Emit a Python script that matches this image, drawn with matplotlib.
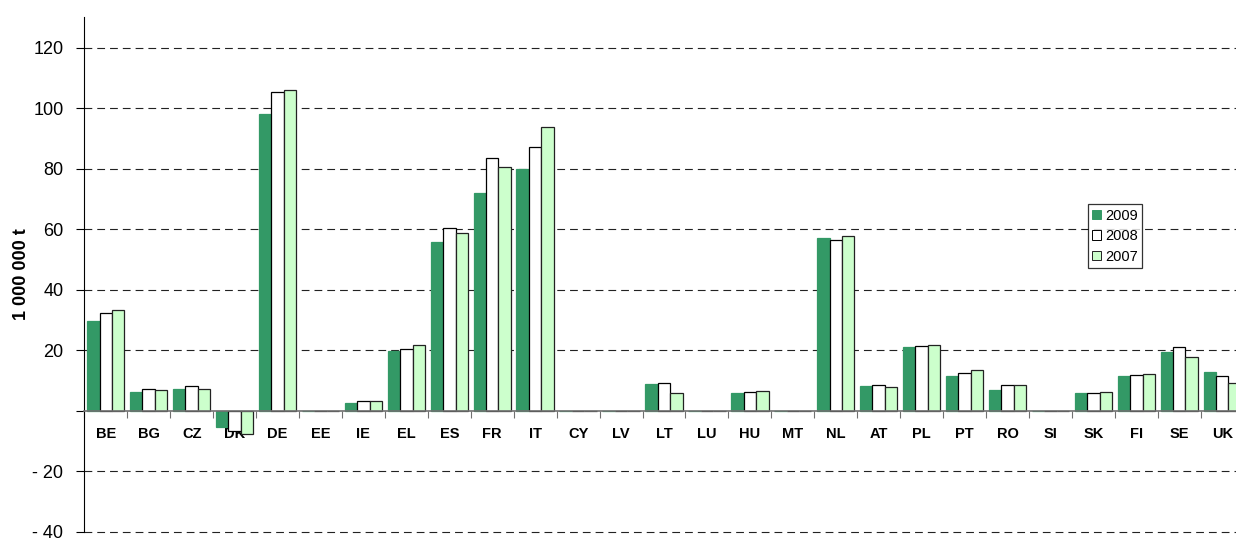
import numpy as np
import matplotlib
matplotlib.use('Agg')
import matplotlib.pyplot as plt
from matplotlib.ticker import FixedLocator, NullFormatter

plt.rcParams['font.family'] = ['Liberation Sans', 'DejaVu Sans']

# Data (1 000 000 t)
countries = ['BE', 'BG', 'CZ', 'DK', 'DE', 'EE', 'IE', 'EL', 'ES', 'FR', 'IT', 'CY', 'LV', 'LT',
             'LU', 'HU', 'MT', 'NL', 'AT', 'PL', 'PT', 'RO', 'SI', 'SK', 'FI', 'SE', 'UK']
v2009 = [29.6, 6.0, 7.0, -5.4, 98.0, 0, 2.5, 19.6, 55.8, 71.8, 79.9, 0, 0, 8.7,
         0, 5.8, 0, 57.1, 8.0, 21.1, 11.3, 6.7, 0, 5.8, 11.3, 19.3, 12.9]
v2008 = [32.4, 7.1, 8.2, -6.8, 105.2, 0, 3.3, 20.4, 60.5, 83.4, 87.1, 0, 0, 9.2,
         0, 6.2, 0, 56.5, 8.4, 21.3, 12.5, 8.4, 0, 5.9, 11.8, 21.1, 11.4]
v2007 = [33.1, 6.9, 7.1, -7.8, 106.1, 0, 3.3, 21.8, 58.8, 80.6, 93.8, 0, 0, 5.7,
         0, 6.6, 0, 57.7, 7.9, 21.6, 13.5, 8.6, 0, 6.1, 12.1, 17.8, 9.1]
years = ['2009', '2008', '2007']
y_ticks = [-40, -20, 0, 20, 40, 60, 80, 100, 120]
y_tick_labels = ['- 40', '- 20', '', '20', '40', '60', '80', '100', '120']

fig = plt.figure(figsize=(12.36, 5.43), dpi=100)
ax = fig.add_axes([0.0682, 0.021, 0.938, 0.947])

x = np.arange(len(countries))
w = 0.29
series = [v2009, v2008, v2007]
face = ['#339966', '#ffffff', '#ccffcc']
edge = ['#339966', '#000000', '#222222']
for i, (vals, fc, ec, lab) in enumerate(zip(series, face, edge, years)):
    ax.bar(x + (i - 1) * w, vals, width=w, color=fc, edgecolor=ec, linewidth=0.9,
           label=lab, zorder=2)

ax.set_xlim(-0.5, len(countries) - 0.5)
ax.set_ylim(-40, 130)

# dashed gridlines
ax.yaxis.set_major_locator(FixedLocator(y_ticks))
ax.set_yticklabels(y_tick_labels, fontsize=13)
for yv in y_ticks:
    if yv != 0:
        ax.axhline(yv, color='#222222', linewidth=0.8, linestyle=(0, (7, 4.5)),
                   zorder=0, clip_on=False)

ax.spines['top'].set_visible(False)
ax.spines['right'].set_visible(False)
ax.spines['left'].set_color('black')
ax.spines['bottom'].set_position(('data', 0))
ax.spines['bottom'].set_color('#707070')
ax.spines['bottom'].set_linewidth(1.2)
ax.spines['bottom'].set_zorder(3)

# ticks at category boundaries, labels at centres
ax.xaxis.set_major_locator(FixedLocator(np.arange(-0.5, len(countries), 1.0)))
ax.xaxis.set_major_formatter(NullFormatter())
ax.xaxis.set_minor_locator(FixedLocator(x))
ax.set_xticklabels(countries, minor=True, fontsize=10.5, fontweight='bold')
ax.tick_params(axis='x', which='major', direction='out', length=5, color='#707070')
ax.tick_params(axis='x', which='minor', length=0, pad=12)
ax.tick_params(axis='y', direction='out', length=6, pad=9, color='black')

ax.set_ylabel('1 000 000 t', fontsize=13, fontweight='bold', labelpad=2)

leg = ax.legend(loc='upper left', bbox_to_anchor=(0.880, 0.6238), bbox_transform=fig.transFigure,
                fontsize=10.5, frameon=True, fancybox=False, borderaxespad=0,
                handlelength=0.6, handleheight=0.6, handletextpad=0.3,
                labelspacing=0.45, borderpad=0.3)
leg.get_frame().set_edgecolor('black')
leg.get_frame().set_linewidth(0.9)
for h in leg.legend_handles:
    h.set_linewidth(0.7)

fig.savefig('out.png', dpi=100)
